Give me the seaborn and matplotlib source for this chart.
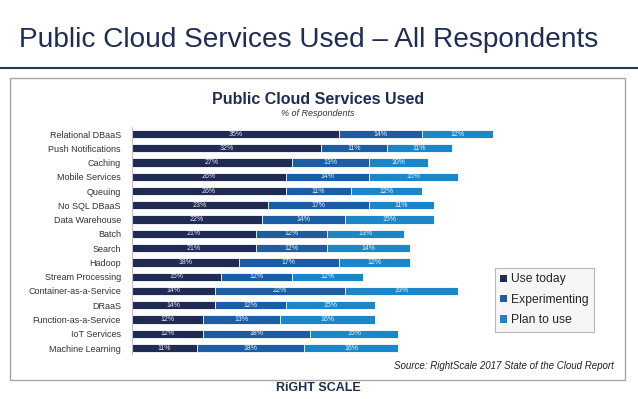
import numpy as np
import pandas as pd
import matplotlib.pyplot as plt
import seaborn as sns
from matplotlib.patches import Rectangle, Patch
from matplotlib.lines import Line2D

sns.set_style("white")
plt.rcParams["font.family"] = ["Liberation Sans", "DejaVu Sans"]

# Data
services = ["Relational DBaaS", "Push Notifications", "Caching", "Mobile Services",
            "Queuing", "No SQL DBaaS", "Data Warehouse", "Batch", "Search", "Hadoop",
            "Stream Processing", "Container-as-a-Service", "DRaaS",
            "Function-as-a-Service", "IoT Services", "Machine Learning"]
use_today = [35, 32, 27, 26, 26, 23, 22, 21, 21, 18, 15, 14, 14, 12, 12, 11]
experimenting = [14, 11, 13, 14, 11, 17, 14, 12, 12, 17, 12, 22, 12, 13, 18, 18]
plan_to_use = [12, 11, 10, 15, 12, 11, 15, 13, 14, 12, 12, 19, 15, 16, 15, 16]
series_names = ["Use today", "Experimenting", "Plan to use"]
colors = ["#1f2a55", "#1b5ea6", "#1b87c9"]

df = pd.DataFrame({"Service": services, "Use today": use_today,
                   "Experimenting": experimenting, "Plan to use": plan_to_use})
df["cum1"] = df["Use today"]
df["cum2"] = df["cum1"] + df["Experimenting"]
df["cum3"] = df["cum2"] + df["Plan to use"]

fig = plt.figure(figsize=(6.38, 3.99), dpi=100)
W, H = 638, 399

def fx(px):
    return px / W

def fy(py):
    return 1 - py / H

# page header
fig.text(fx(19), fy(40), "Public Cloud Services Used \u2013 All Respondents",
         fontsize=20.2, color="#1f2d55", va="center", ha="left")
fig.add_artist(Line2D([0, 1], [fy(68), fy(68)], color="#2a3b55", lw=1.5,
                      transform=fig.transFigure))
fig.add_artist(Rectangle((fx(10), fy(380)), fx(615), (380 - 78) / H, fill=False,
                         edgecolor="#a6a6a6", lw=1, transform=fig.transFigure))

fig.text(fx(318), fy(99), "Public Cloud Services Used", fontsize=11.5,
         fontweight="bold", color="#1f2d55", ha="center", va="center")
fig.text(fx(318), fy(114), "% of Respondents", fontsize=6.5, style="italic",
         color="#333333", ha="center", va="center")

# chart axes
left_px, ppct, xmax = 132, 5.92, 70
row_top, row_bot = 134, 348
step = (row_bot - row_top) / (len(services) - 1)
ax = fig.add_axes([fx(left_px), fy(row_bot + step / 2),
                   xmax * ppct / W, (row_bot - row_top + step) / H])

for col, c in zip(["cum3", "cum2", "cum1"], colors[::-1]):
    sns.barplot(data=df, x=col, y="Service", color=c, orient="h", width=0.58,
                saturation=1, edgecolor="white", linewidth=0.6, ax=ax)

for i, row in df.iterrows():
    starts = [0, row["cum1"], row["cum2"]]
    for s, v in zip(starts, [row["Use today"], row["Experimenting"], row["Plan to use"]]):
        ax.text(s + v / 2, i, f"{v}%", color="white", fontsize=5, alpha=0.9,
                ha="center", va="center")

ax.set_xlim(0, xmax)
ax.set_xlabel("")
ax.set_ylabel("")
ax.set_xticks([])
ax.tick_params(axis="y", length=0, labelsize=6.5, pad=8, labelcolor="#333333")
for s in ax.spines.values():
    s.set_visible(False)
ax.axvline(0, color="#bfbfbf", lw=0.8)

handles = [Patch(facecolor=c, edgecolor="none") for c in colors]
leg = fig.legend(handles, series_names, loc="upper left",
                 bbox_to_anchor=(fx(495), fy(268)), fontsize=8.7, frameon=True,
                 fancybox=False, edgecolor="#a6a6a6", facecolor="#f4f4f4",
                 handlelength=0.55, handleheight=0.55, handletextpad=0.3,
                 labelspacing=0.7, borderpad=0.45, borderaxespad=0)
leg.get_frame().set_linewidth(0.8)

fig.text(fx(614), fy(366), "Source: RightScale 2017 State of the Cloud Report",
         fontsize=7, style="italic", color="#222222", ha="right", va="center")
fig.text(fx(318), fy(388), "RiGHT SCALE", fontsize=9, fontweight="bold",
         color="#1f2d55", ha="center", va="center")

fig.savefig("out.png", dpi=100)
